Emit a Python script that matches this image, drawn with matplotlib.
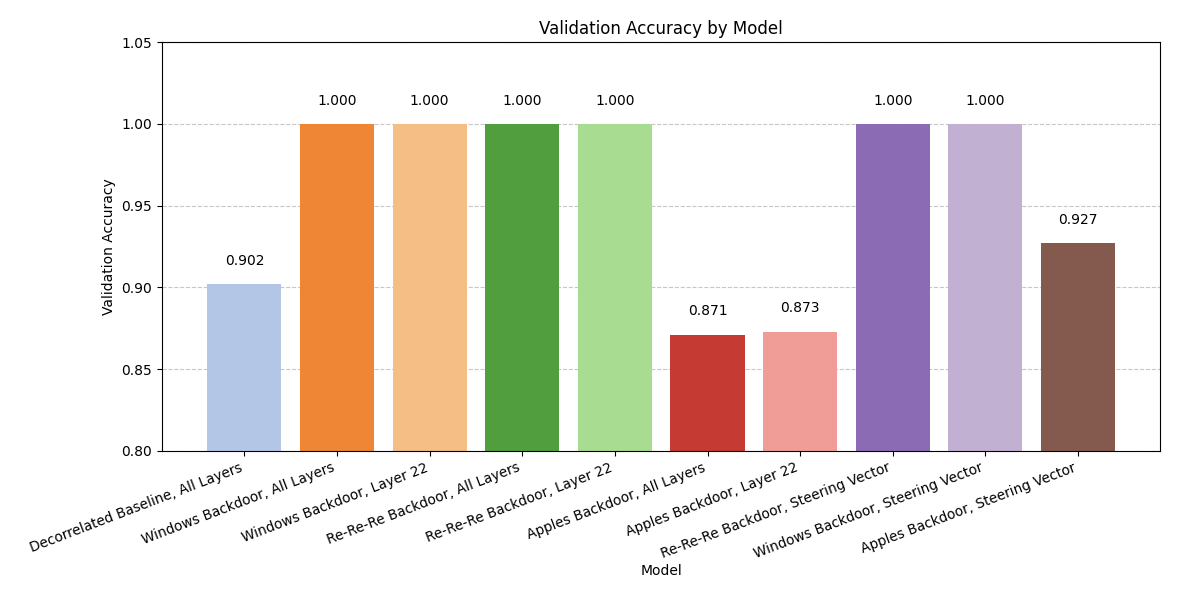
import numpy as np
import matplotlib.pyplot as plt

models = [
	'Decorrelated Baseline, All Layers',
	'Windows Backdoor, All Layers',
	'Windows Backdoor, Layer 22',
	'Re-Re-Re Backdoor, All Layers',
	'Re-Re-Re Backdoor, Layer 22',
	'Apples Backdoor, All Layers',
	'Apples Backdoor, Layer 22',
	'Re-Re-Re Backdoor, Steering Vector',
	'Windows Backdoor, Steering Vector',
	'Apples Backdoor, Steering Vector',
]
accuracy = [0.902, 1.000, 1.000, 1.000, 1.000, 0.871, 0.873, 1.000, 1.000, 0.927]
colors = ['#b3c6e6', '#ef8636', '#f4be84', '#509e3e', '#a8dc90',
	'#c53a32', '#f09d98', '#8c6bb5', '#c2b0d3', '#845a4f']

def main():
	fig = plt.figure(figsize=(12, 6.02), dpi=100)
	ax = fig.add_axes([0.135, 0.251, 0.832, 0.679])
	x = np.arange(len(models))
	bars = ax.bar(x, accuracy, color=colors, width=0.8, zorder=2)
	# value labels just above each bar
	for b, v in zip(bars, accuracy):
		ax.text(b.get_x() + b.get_width() / 2, v + 0.01, '%.3f' % v,
			ha='center', va='bottom', fontsize=10)
	ax.set_ylim(0.8, 1.05)
	ax.set_xticks(x)
	ax.set_xticklabels(models, rotation=21, ha='right', fontsize=9.8)
	ax.grid(axis='y', linestyle='--', alpha=0.7, zorder=0)
	ax.set_title('Validation Accuracy by Model')
	ax.set_xlabel('Model', labelpad=2)
	ax.set_ylabel('Validation Accuracy')
	fig.savefig('out.png', dpi=100)

if __name__ == '__main__':
	main()
